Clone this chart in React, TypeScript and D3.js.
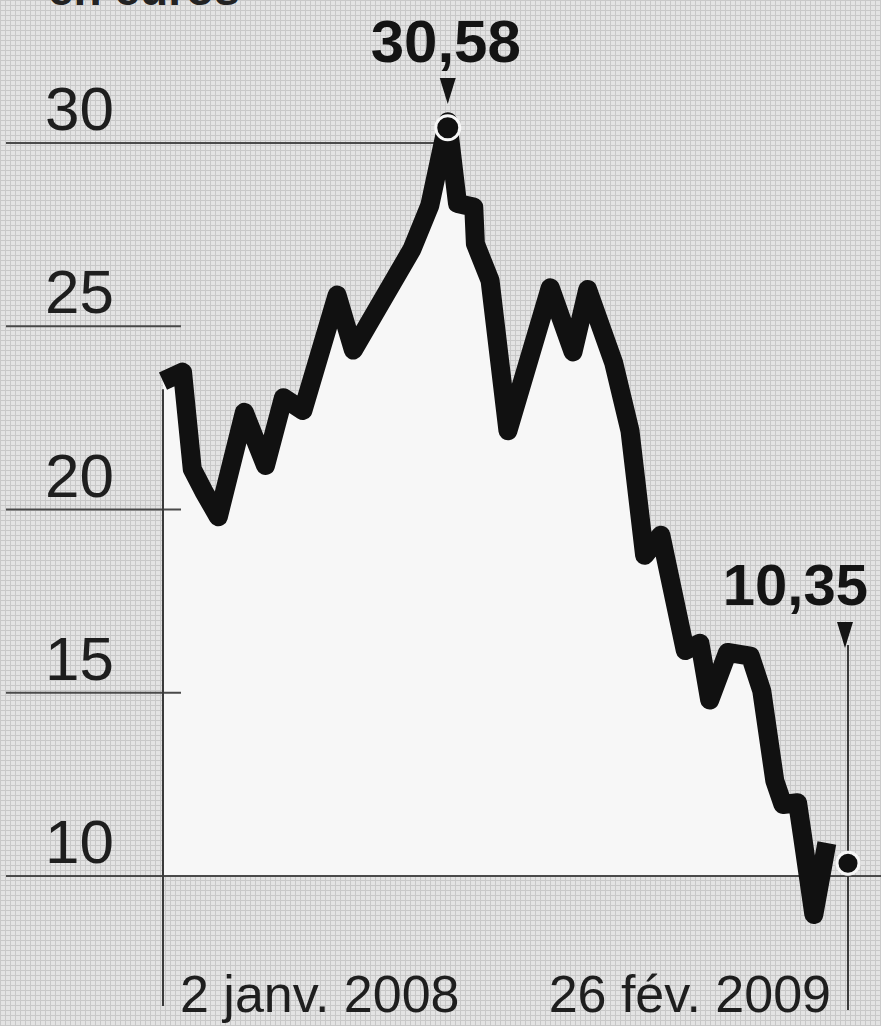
import React from 'react'
import * as d3 from 'd3'

// cours de l'action, en euros
const dates = [
  '2008-01-02', '2008-01-14', '2008-01-20', '2008-01-27', '2008-02-05',
  '2008-02-21', '2008-03-05', '2008-03-16', '2008-03-28', '2008-04-18',
  '2008-04-28', '2008-06-03', '2008-06-14', '2008-06-25', '2008-07-01',
  '2008-07-11', '2008-07-12', '2008-07-21', '2008-08-01', '2008-08-27',
  '2008-09-10', '2008-09-19', '2008-10-05', '2008-10-15', '2008-10-24',
  '2008-11-03', '2008-11-18', '2008-11-27', '2008-12-03', '2008-12-14',
  '2008-12-28', '2009-01-04', '2009-01-12', '2009-01-17', '2009-01-26',
  '2009-01-29', '2009-02-05', '2009-02-13',
]
const prices = [
  23.5, 23.75, 21.1, 20.5, 19.8,
  22.65, 21.2, 23.05, 22.7, 25.85,
  24.35, 27.1, 28.3, 30.58, 28.35,
  28.25, 27.25, 26.25, 22.15, 26.05,
  24.3, 26.0, 24.0, 22.15, 18.75,
  19.3, 16.15, 16.35, 14.8, 16.1,
  16.0, 15.05, 12.6, 11.95, 12.0,
  11.1, 8.95, 10.9,
]

const yTicks = [30, 25, 20, 15, 10]
const startLabel = '2 janv. 2008'
const endLabel = '26 fév. 2009'
const startDate = '2008-01-02'
const endDate = '2009-02-26'
const maxDate = '2008-06-25'
const maxValue = 30.58
const lastValue = 10.35
const unitLabel = 'en euros'

const W = 881
const H = 1026

export default function App() {
  const parse = d3.timeParse('%Y-%m-%d')
  const data = dates.map((d, i) => ({ date: parse(d) as Date, value: prices[i] }))

  const x = d3.scaleTime()
    .domain([parse(startDate) as Date, parse(endDate) as Date])
    .range([163, 848])
  const y = d3.scaleLinear().domain([10, 30]).range([876, 143])

  const myLine = d3.line<any>()
    .x(d => x(d.date))
    .y(d => y(d.value))
    .curve(d3.curveLinear)

  const myArea = d3.area<any>()
    .x(d => x(d.date))
    .y0(y(10))
    .y1(d => y(d.value))
    .curve(d3.curveLinear)

  const xMax = x(parse(maxDate) as Date)
  const yMax = y(maxValue)
  const xEnd = x(parse(endDate) as Date)
  const yEnd = y(lastValue)
  const x0 = x(parse(startDate) as Date)

  const tri = (cx: number, top: number) =>
    `M${cx - 8},${top} L${cx + 8},${top} L${cx},${top + 26} Z`

  return (
    <svg width={W} height={H} style={{ position: 'absolute', left: 0, top: 0 }}
      fontFamily="'Liberation Sans', Arial, sans-serif">
      <defs>
        <pattern id="trame" width="5" height="5" patternUnits="userSpaceOnUse">
          <rect width="5" height="5" fill="#e3e3e3" />
          <rect width="5" height="1" fill="#c8c8c8" />
          <rect width="1" height="5" fill="#c8c8c8" />
        </pattern>
        <clipPath id="above10">
          <rect x={0} y={0} width={W} height={y(10)} />
        </clipPath>
      </defs>

      <rect width={W} height={H} fill="url(#trame)" />

      <text x={48} y={5} fontSize={46} fontWeight="bold" fill="#222">{unitLabel}</text>

      {/* zone blanche sous la courbe */}
      <path d={myArea(data) as string} fill="#f7f7f7" clipPath="url(#above10)" />

      {/* grille */}
      {yTicks.map(t => {
        const x2 = t === 10 ? W : t === 30 ? xMax : 181
        return (
          <g key={t}>
            <line x1={6} x2={x2} y1={y(t)} y2={y(t)} stroke="#4a4a4a" strokeWidth={2} />
            <text x={114} y={y(t) - 13} fontSize={62} textAnchor="end" fill="#1e1e1e">{t}</text>
          </g>
        )
      })}

      <line x1={x0} x2={x0} y1={y(prices[0]) + 8} y2={1006} stroke="#3a3a3a" strokeWidth={2} />
      <line x1={xEnd} x2={xEnd} y1={645} y2={1010} stroke="#3a3a3a" strokeWidth={2} />

      <path d={myLine(data) as string} fill="none" stroke="#111" strokeWidth={19}
        strokeLinejoin="round" strokeLinecap="butt" />

      {/* plus haut */}
      <text x={xMax - 2} y={62} fontSize={60} fontWeight="bold" textAnchor="middle" fill="#141414">
        {d3.format('.2f')(maxValue).replace('.', ',')}
      </text>
      <path d={tri(xMax, 78)} fill="#141414" />
      <circle cx={xMax} cy={yMax + 6} r={12} fill="#111" stroke="#f7f7f7" strokeWidth={3} />

      {/* dernier cours */}
      <text x={868} y={605} fontSize={58} fontWeight="bold" textAnchor="end" fill="#141414">
        {d3.format('.2f')(lastValue).replace('.', ',')}
      </text>
      <path d={tri(xEnd - 3, 622)} fill="#141414" />
      <circle cx={xEnd} cy={yEnd} r={11} fill="#111" stroke="#f7f7f7" strokeWidth={3} />

      <text x={180} y={1012} fontSize={52} fill="#1e1e1e">{startLabel}</text>
      <text x={831} y={1012} fontSize={52} textAnchor="end" fill="#1e1e1e">{endLabel}</text>
    </svg>
  )
}
